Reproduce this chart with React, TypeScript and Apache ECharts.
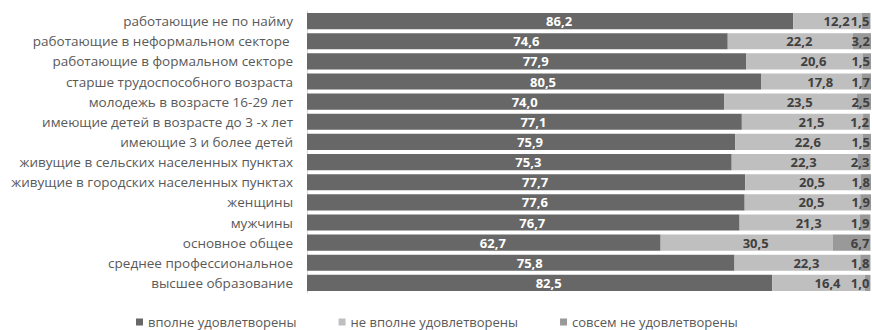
import React, { useEffect, useRef } from "react";
import * as echarts from "echarts";

const categories = [
  "работающие не по найму",
  "работающие в неформальном секторе ",
  "работающие в формальном секторе",
  "старше трудоспособного возраста",
  "молодежь в возрасте 16-29 лет",
  "имеющие детей в возрасте до 3 -х лет",
  "имеющие 3 и более детей",
  "живущие в сельских населенных пунктах",
  "живущие в городских населенных пунктах",
  "женщины",
  "мужчины",
  "основное общее",
  "среднее профессиональное",
  "высшее образование",
];

const seriesNames = ["вполне удовлетворены", "не вполне удовлетворены", "совсем не удовлетворены"];

const fullySatisfied = [86.2, 74.6, 77.9, 80.5, 74.0, 77.1, 75.9, 75.3, 77.7, 77.6, 76.7, 62.7, 75.8, 82.5];
const partlySatisfied = [12.2, 22.2, 20.6, 17.8, 23.5, 21.5, 22.6, 22.3, 20.5, 20.5, 21.3, 30.5, 22.3, 16.4];
const notSatisfied = [1.5, 3.2, 1.5, 1.7, 2.5, 1.2, 1.5, 2.3, 1.8, 1.9, 1.9, 6.7, 1.8, 1.0];

const colors = ["#676767", "#bfbfbf", "#999999"];
const labelColors = ["#ffffff", "#404040", "#404040"];

const FONT = "'Open Sans', 'Noto Sans', sans-serif";

export default function App() {
  const ref = useRef<HTMLDivElement>(null);
  useEffect(() => {
    document.body.style.margin = "0";
    if (!ref.current) return;
    const chart = echarts.init(ref.current, undefined, { renderer: "svg" });
    const data = [fullySatisfied, partlySatisfied, notSatisfied];
    chart.setOption({
      animation: false,
      textStyle: { fontFamily: FONT },
      grid: { left: 307, right: 1, top: 11, height: 282, containLabel: false },
      legend: {
        top: 315,
        left: 136,
        padding: 0,
        itemWidth: 7,
        itemHeight: 7,
        itemGap: 42,
        icon: "rect",
        textStyle: { color: "#595959", fontSize: 13, lineHeight: 14, fontFamily: FONT },
        data: seriesNames,
      },
      xAxis: {
        type: "value",
        min: 0,
        max: 100,
        show: false,
      },
      yAxis: {
        type: "category",
        inverse: true,
        data: categories,
        axisLine: { show: true, lineStyle: { color: "#d9d9d9" } },
        axisTick: { show: false },
        axisLabel: { color: "#595959", fontSize: 13.5, margin: 14, fontFamily: FONT },
      },
      series: seriesNames.map((name, i) => ({
        name,
        type: "bar",
        stack: "total",
        barCategoryGap: "20%",
        itemStyle: { color: colors[i] },
        label:
          i === 2
            ? {
                show: true,
                position: "insideRight",
                distance: 1,
                color: labelColors[i],
                fontWeight: "bold",
                fontSize: 13,
                fontFamily: FONT,
                formatter: (p: any) => Number(p.value).toFixed(1).replace(".", ","),
              }
            : {
                show: true,
                position: "inside",
                offset: [9, 0],
                color: labelColors[i],
                fontWeight: "bold",
                fontSize: 13,
                fontFamily: FONT,
                formatter: (p: any) => Number(p.value).toFixed(1).replace(".", ","),
              },
        data: data[i],
      })),
    });
    return () => chart.dispose();
  }, []);
  return <div ref={ref} style={{ width: 872, height: 330 }} />;
}
